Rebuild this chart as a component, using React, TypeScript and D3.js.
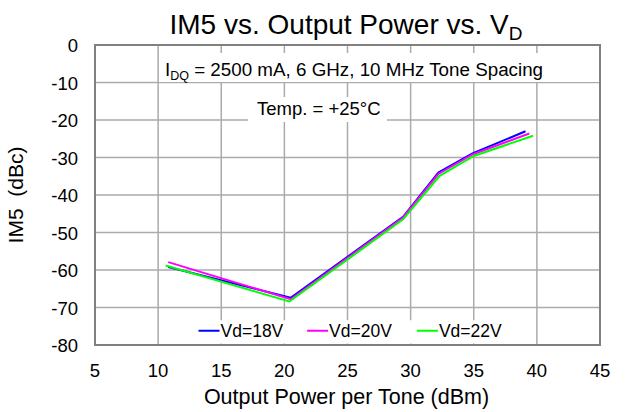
import React from 'react';
import * as d3 from 'd3';

// x = output power per tone (dBm), y = IM5 (dBc)
const xTicks = [5, 10, 15, 20, 25, 30, 35, 40, 45];
const yTicks = [0, -10, -20, -30, -40, -50, -60, -70, -80];

const vd18 = [[10.8, -59.2], [20.5, -67.4], [29.4, -45.8], [32.2, -34.0], [34.9, -28.9], [39.1, -23.0]];
const vd20 = [[10.8, -57.9], [20.5, -67.8], [29.4, -46.0], [32.2, -34.4], [34.9, -29.2], [39.4, -23.6]];
const vd22 = [[10.6, -58.8], [20.4, -68.4], [29.4, -46.5], [32.3, -34.9], [35.0, -29.6], [39.7, -24.2]];

const seriesNames = ['Vd=18V', 'Vd=20V', 'Vd=22V'];
const seriesColors = ['#0000ff', '#ff00ff', '#00ff00'];

const W = 625;
const H = 412;
const margin = { top: 45, right: 25, bottom: 67, left: 95 };
const font = '"Liberation Sans", Arial, sans-serif';

export default function App() {
  const plotW = W - margin.left - margin.right;
  const plotH = H - margin.top - margin.bottom;

  const x = d3.scaleLinear().domain([5, 45]).range([0, plotW]);
  const y = d3.scaleLinear().domain([-80, 0]).range([plotH, 0]);

  const line = d3.line<number[]>()
    .x(d => x(d[0]))
    .y(d => y(d[1]));

  const allSeries = [vd18, vd20, vd22];

  // legend layout (relative to plot)
  const legendY = y(-76.2);
  const legendX = [x(13.2), x(21.8), x(30.5)];

  return (
    <svg width={W} height={H} style={{ position: 'absolute', left: 0, top: 0, background: '#fff' }} fontFamily={font}>
      <text x={346} y={34} textAnchor="middle" fontSize={28} fill="#000">
        IM5 vs. Output Power vs. V<tspan dy={6} fontSize={19}>D</tspan>
      </text>

      <g transform={`translate(${margin.left},${margin.top})`}>
        {/* grid */}
        {xTicks.slice(1, -1).map(t => (
          <line key={'gx' + t} x1={x(t)} x2={x(t)} y1={0} y2={plotH} stroke="#ababab" strokeWidth={1.5} />
        ))}
        {yTicks.slice(1, -1).map(t => (
          <line key={'gy' + t} x1={0} x2={plotW} y1={y(t)} y2={y(t)} stroke="#ababab" strokeWidth={1.5} />
        ))}

        {/* annotation boxes */}
        <rect x={x(10) + 1} y={8} width={plotW - x(10) - 2} height={29} fill="#fff" />
        <text x={70} y={31} fontSize={18.8} fill="#000">
          I<tspan dy={4} fontSize={12.5}>DQ</tspan><tspan dy={-4}> = 2500 mA, 6 GHz, 10 MHz Tone Spacing</tspan>
        </text>

        <rect x={153} y={52} width={139} height={25} fill="#fff" />
        <text x={162} y={70} fontSize={18.5} fill="#000">Temp. = +25°C</text>

        {/* series */}
        {allSeries.map((s, i) => (
          <path key={i} d={line(s) || ''} fill="none" stroke={seriesColors[i]} strokeWidth={2} />
        ))}

        {/* legend */}
        <rect x={x(12.8)} y={y(-73.4)} width={x(37.2) - x(12.8)} height={y(-79.6) - y(-73.4)} fill="#fff" />
        {seriesNames.map((n, i) => (
          <g key={n} transform={`translate(${legendX[i]},${legendY})`}>
            <line x1={0} x2={21} y1={0} y2={0} stroke={seriesColors[i]} strokeWidth={2} />
            <text x={22} y={6} fontSize={17.5} fill="#000">{n}</text>
          </g>
        ))}

        {/* frame */}
        <rect x={0} y={0} width={plotW} height={plotH} fill="none" stroke="#808080" strokeWidth={2} />

        {/* x ticks */}
        {xTicks.map(t => (
          <text key={'xt' + t} x={x(t)} y={plotH + 32} textAnchor="middle" fontSize={18.5} fill="#000">{t}</text>
        ))}
        {/* y ticks */}
        {yTicks.map(t => (
          <text key={'yt' + t} x={-17} y={y(t) + 7} textAnchor="end" fontSize={18.5} fill="#000">{t}</text>
        ))}

        <text x={plotW / 2 - 1} y={plotH + 59} textAnchor="middle" fontSize={21.5} fill="#000">
          Output Power per Tone (dBm)
        </text>
        <text transform={`translate(-72,${plotH / 2}) rotate(-90)`} textAnchor="middle" fontSize={21} fill="#000" style={{ whiteSpace: 'pre' }}>
          {'IM5  (dBc)'}
        </text>
      </g>
    </svg>
  );
}
